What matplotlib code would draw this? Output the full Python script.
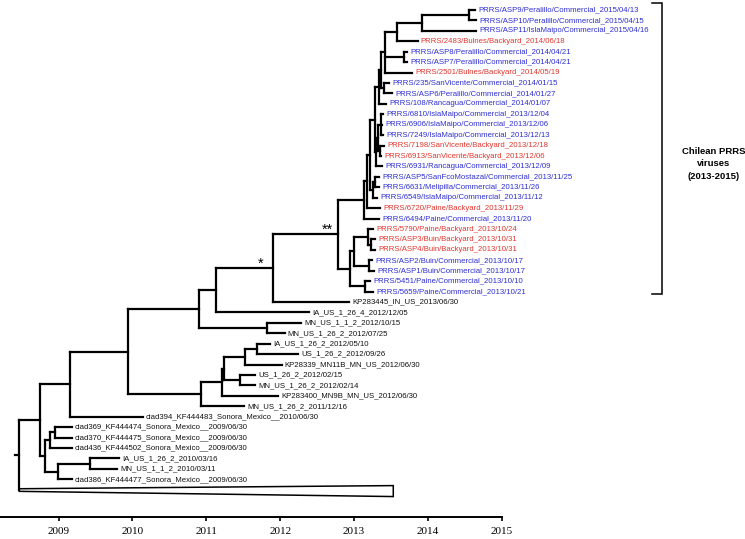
import matplotlib
matplotlib.use('Agg')
import matplotlib.pyplot as plt
from matplotlib.collections import LineCollection
from matplotlib.patches import Polygon

# ---------------- data ----------------
tip_labels = [
    "PRRS/ASP9/Peralillo/Commercial_2015/04/13",
    "PRRS/ASP10/Peralillo/Commercial_2015/04/15",
    "PRRS/ASP11/IslaMaipo/Commercial_2015/04/16",
    "PRRS/2483/Bulnes/Backyard_2014/06/18",
    "PRRS/ASP8/Peralillo/Commercial_2014/04/21",
    "PRRS/ASP7/Peralillo/Commercial_2014/04/21",
    "PRRS/2501/Bulnes/Backyard_2014/05/19",
    "PRRS/235/SanVicente/Commercial_2014/01/15",
    "PRRS/ASP6/Peralillo/Commercial_2014/01/27",
    "PRRS/108/Rancagua/Commercial_2014/01/07",
    "PRRS/6810/IslaMaipo/Commercial_2013/12/04",
    "PRRS/6906/IslaMaipo/Commercial_2013/12/06",
    "PRRS/7249/IslaMaipo/Commercial_2013/12/13",
    "PRRS/7198/SanVicente/Backyard_2013/12/18",
    "PRRS/6913/SanVicente/Backyard_2013/12/06",
    "PRRS/6931/Rancagua/Commercial_2013/12/09",
    "PRRS/ASP5/SanFcoMostazal/Commercial_2013/11/25",
    "PRRS/6631/Melipilla/Commercial_2013/11/26",
    "PRRS/6549/IslaMaipo/Commercial_2013/11/12",
    "PRRS/6720/Paine/Backyard_2013/11/29",
    "PRRS/6494/Paine/Commercial_2013/11/20",
    "PRRS/5790/Paine/Backyard_2013/10/24",
    "PRRS/ASP3/Buin/Backyard_2013/10/31",
    "PRRS/ASP4/Buin/Backyard_2013/10/31",
    "PRRS/ASP2/Buin/Commercial_2013/10/17",
    "PRRS/ASP1/Buin/Commercial_2013/10/17",
    "PRRS/5451/Paine/Commercial_2013/10/10",
    "PRRS/5659/Paine/Commercial_2013/10/21",
    "KP283445_IN_US_2013/06/30",
    "IA_US_1_26_4_2012/12/05",
    "MN_US_1_1_2_2012/10/15",
    "MN_US_1_26_2_2012/07/25",
    "IA_US_1_26_2_2012/05/10",
    "US_1_26_2_2012/09/26",
    "KP28339_MN11B_MN_US_2012/06/30",
    "US_1_26_2_2012/02/15",
    "MN_US_1_26_2_2012/02/14",
    "KP283400_MN9B_MN_US_2012/06/30",
    "MN_US_1_26_2_2011/12/16",
    "ciad394_KF444483_Sonora_Mexico__2010/06/30",
    "ciad369_KF444474_Sonora_Mexico__2009/06/30",
    "ciad370_KF444475_Sonora_Mexico__2009/06/30",
    "ciad436_KF444502_Sonora_Mexico__2009/06/30",
    "IA_US_1_26_2_2010/03/16",
    "MN_US_1_1_2_2010/03/11",
    "ciad386_KF444477_Sonora_Mexico__2009/06/30",
]

tip_x = [
    2014.64, 2014.65, 2014.65, 2013.86, 2013.72, 2013.72, 2013.78,
    2013.47, 2013.51, 2013.43, 2013.39, 2013.38, 2013.39, 2013.41,
    2013.36, 2013.38, 2013.34, 2013.34, 2013.31, 2013.35, 2013.34,
    2013.26, 2013.28, 2013.28, 2013.24, 2013.27, 2013.22, 2013.26,
    2012.93, 2012.39, 2012.28, 2012.06, 2011.86, 2012.24, 2012.02,
    2011.66, 2011.66, 2011.97, 2011.51, 2010.14, 2009.18, 2009.18,
    2009.18, 2009.82, 2009.79, 2009.18,
]

# C = Chilean commercial, B = Chilean backyard, R = reference
tip_group = (["C", "C", "C", "B", "C", "C", "B", "C", "C", "C", "C", "C", "C",
              "B", "B", "C", "C", "C", "C", "B", "C", "B", "B", "B", "C", "C",
              "C", "C"] + ["R"] * 18)

node_names = ["A9_10", "J", "K", "M", "L", "P1", "L2", "L3", "P2", "P3", "P4",
              "P5", "L4", "P6", "P7", "L5", "L6", "H",
              "E1", "E", "F", "D", "G", "C", "DSTAR", "STAR", "B", "MNP",
              "V", "T", "U", "S1", "S", "R", "A", "N128", "N70",
              "N55", "N50", "N90", "N58", "N45", "N40", "ROOT"]
node_x = [2014.55, 2013.92, 2013.58, 2013.68, 2013.42, 2013.41, 2013.36, 2013.34,
          2013.36, 2013.345, 2013.32, 2013.30, 2013.28, 2013.28, 2013.25, 2013.22,
          2013.17, 2013.13,
          2013.23, 2013.19, 2013.20, 2013.00, 2013.15, 2012.94, 2012.78, 2011.90,
          2011.13, 2011.82,
          2011.69, 2011.52, 2011.46, 2011.24, 2011.21, 2010.93, 2010.90, 2009.94,
          2009.16,
          2008.95, 2008.885, 2009.43, 2008.99, 2008.82, 2008.75, 2008.47]
node_children = [
    [0, 1], ["A9_10", 2], ["J", 3], [4, 5], ["K", "M", 6], [7, 8], ["L", "P1"],
    ["L2", 9], [10, 11, 12], [13, 14], ["P2", "P3"], ["P4", 15], ["L3", "P5"],
    [16, 17], ["P6", 18], ["L4", "P7"], ["L5", 19], ["L6", 20],
    [22, 23], [21, "E1"], [24, 25], ["E", "F"], [26, 27], ["D", "G"],
    ["H", "C"], ["DSTAR", 28], ["STAR", 29], [30, 31],
    [32, 33], ["V", 34], [35, 36], ["T", "U"], ["S1", 37], ["S", 38],
    ["B", "MNP"], ["A", "R"], ["N128", 39],
    [40, 41], ["N55", 42], [43, 44], ["N90", 45], ["N50", "N58"],
    ["N70", "N45"], ["N40", "COLLAPSED"],
]

collapsed_x = 2013.53          # depth of the collapsed clade
support_labels = {"STAR": "*", "DSTAR": "**"}
year_ticks = [2009, 2010, 2011, 2012, 2013, 2014, 2015]
bracket_text = "Chilean PRRS\nviruses\n(2013-2015)"
bracket_rows = (0, 27)

# ---------------- layout ----------------
W, H = 745, 539
PX0, PXY = 58.5, 73.9          # pixel of 2009 and pixels per year
ROW0, ROWH = 10.0, 10.43       # pixel of first row, row height


def px2yr(px):
    return 2009 + (px - PX0) / PXY


def py2row(py):
    return (py - ROW0) / ROWH


group_color = {"C": "#2e2ed2", "B": "#e2352e", "R": "#111111"}

fig = plt.figure(figsize=(W / 100, H / 100), dpi=100)
ax = fig.add_axes([0, 0, 1, 1])
ax.set_xlim(px2yr(0), px2yr(W))
ax.set_ylim(py2row(H), py2row(0))

# positions
pos = {}
for i, x in enumerate(tip_x):
    pos[i] = (x, float(i))
collapsed_row = float(len(tip_x))
nodes = dict(zip(node_names, zip(node_x, node_children)))


def place(name):
    if name in pos:
        return pos[name]
    if name == "COLLAPSED":
        pos[name] = (nodes["ROOT"][0], collapsed_row)
        return pos[name]
    x, ch = nodes[name]
    ys = [place(c)[1] for c in ch]
    pos[name] = (x, (min(ys) + max(ys)) / 2)
    return pos[name]


place("ROOT")

segs = []
for name, (x, ch) in nodes.items():
    y = pos[name][1]
    cys = [pos[c][1] for c in ch]
    segs.append([(x, min(cys)), (x, max(cys))])
    for c in ch:
        cx, cy = pos[c]
        if cx > x:
            segs.append([(x, cy), (cx, cy)])
rx, ry = pos["ROOT"]
segs.append([(px2yr(15), ry), (rx, ry)])

lc = LineCollection(segs, colors="black", linewidths=1.6, capstyle="projecting")
ax.add_collection(lc)

# collapsed clade triangle
tri = Polygon([(rx, collapsed_row - 0.1), (collapsed_x, collapsed_row - 0.4),
               (collapsed_x, collapsed_row + 0.65), (rx, collapsed_row + 0.15)],
              closed=True, facecolor="white", edgecolor="black", linewidth=1.1)
ax.add_patch(tri)

# tip labels
for i, lab in enumerate(tip_labels):
    ax.annotate(lab, xy=pos[i], xytext=(2.3, 0), textcoords="offset points",
                ha="left", va="center", fontsize=5.6,
                family="Liberation Sans", color=group_color[tip_group[i]])

# support labels
offs = {"*": -8.5, "**": -7.5}
for name, s in support_labels.items():
    x, y = pos[name]
    ax.annotate(s, xy=(x, y), xytext=(offs[s], 0.3), textcoords="offset points",
                ha="center", va="baseline", fontsize=10.5,
                family="Liberation Sans", color="black")

# bracket
b_top = bracket_rows[0] - 0.67
b_bot = bracket_rows[1] + 0.23
bx = px2yr(661.5)
bx0 = px2yr(652)
ax.plot([bx0, bx, bx, bx0], [b_top, b_top, b_bot, b_bot], color="black",
        lw=1.1, solid_joinstyle="miter")
ax.text(px2yr(713.5), py2row(164), bracket_text, ha="center",
        va="center", multialignment="center", fontsize=6.8, fontweight="bold",
        family="Liberation Sans", linespacing=1.45)

# time axis
for side in ["top", "left", "right"]:
    ax.spines[side].set_visible(False)
ax.spines["bottom"].set_position(("data", py2row(517)))
ax.spines["bottom"].set_bounds(px2yr(0), 2015)
ax.spines["bottom"].set_linewidth(1.4)
ax.set_xticks(year_ticks)
ax.set_xticklabels([str(y) for y in year_ticks], family="Liberation Serif")
ax.tick_params(axis="x", direction="out", length=3, width=1.2,
               labelsize=8, pad=4.5)
ax.set_yticks([])
ax.patch.set_visible(False)

fig.savefig("out.png", dpi=100)
